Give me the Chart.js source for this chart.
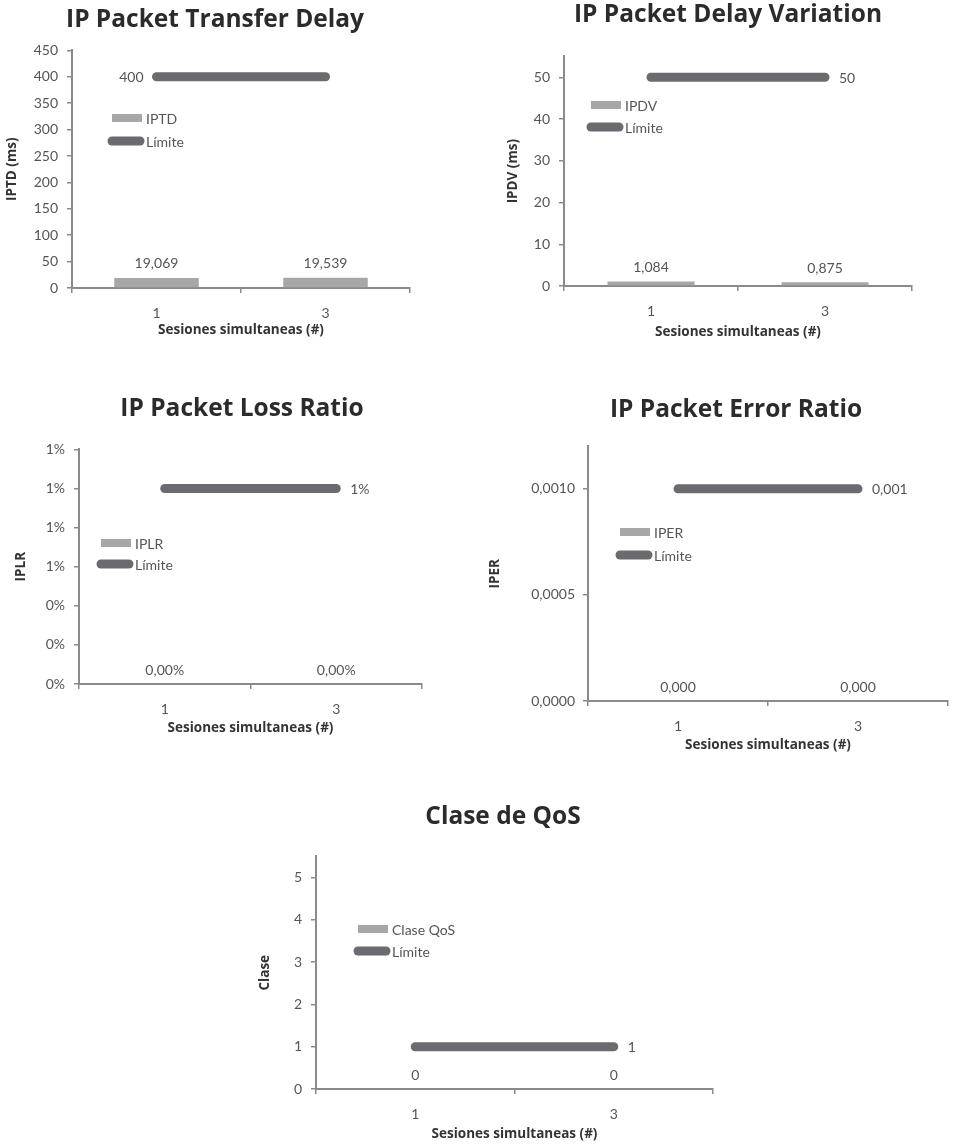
<!DOCTYPE html>
<html>
<head>
<meta charset="utf-8">
<script src="https://cdn.jsdelivr.net/npm/chart.js@4.4.1/dist/chart.umd.min.js"></script>
<style>
  html, body { margin: 0; padding: 0; background: #fff; overflow: hidden; }
  body { width: 957px; height: 1144px; position: relative; }
  .box { position: absolute; }
</style>
</head>
<body>
<div class="box" style="left:0px;top:0px;width:430px;height:340px"><canvas id="iptd"></canvas></div>
<div class="box" style="left:500px;top:0px;width:456px;height:342px"><canvas id="ipdv"></canvas></div>
<div class="box" style="left:0px;top:385px;width:484px;height:353px"><canvas id="iplr"></canvas></div>
<div class="box" style="left:487px;top:385px;width:498px;height:370px"><canvas id="iper"></canvas></div>
<div class="box" style="left:235px;top:795px;width:536px;height:349px"><canvas id="qos"></canvas></div>
<script>
// data
const categories = ['1', '3']

const iptdValues = [19.069, 19.539]
const iptdLimit = [400, 400]
const ipdvValues = [1.084, 0.875]
const ipdvLimit = [50, 50]
const iplrValues = [0, 0]
const iplrLimit = [0.01, 0.01]
const iperValues = [0, 0]
const iperLimit = [0.001, 0.001]
const qosValues = [0, 0]
const qosLimit = [1, 1]

const barColor = '#a7a7a7'
const lineColor = '#6b6b6f'
const axisColor = '#8a8a8a'
const textColor = '#555555'

Chart.defaults.font.family = 'Lato'
Chart.defaults.color = textColor

const comma = (v, d) => v.toFixed(d).replace('.', ',')

// value labels over bars and next to the limit line
const valueLabels = {
  id: 'valueLabels',
  afterDatasetsDraw(chart, args, opts) {
    const ctx = chart.ctx
    ctx.save()
    ctx.font = '14px Lato'
    ctx.fillStyle = textColor
    chart.data.datasets.forEach((ds, i) => {
      const meta = chart.getDatasetMeta(i)
      if (ds.type === 'line') {
        const idx = opts.lineSide === 'left' ? 0 : ds.data.length - 1
        const pt = meta.data[idx]
        ctx.textBaseline = 'middle'
        ctx.textAlign = opts.lineSide === 'left' ? 'right' : 'left'
        const dx = opts.lineSide === 'left' ? -13 : 14
        ctx.fillText(opts.lineFormat(ds.data[idx]), pt.x + dx, pt.y + 1)
      } else {
        meta.data.forEach((bar, j) => {
          ctx.textAlign = 'center'
          ctx.textBaseline = 'bottom'
          ctx.fillText(opts.barFormat(ds.data[j]), bar.x, Math.min(bar.y, bar.base) - 7)
        })
      }
    })
    ctx.restore()
  }
}

// legend drawn inside the plot area
const innerLegend = {
  id: 'innerLegend',
  afterDraw(chart, args, opts) {
    const { left, top, height } = chart.chartArea
    const ctx = chart.ctx
    ctx.save()
    ctx.font = '14px Lato'
    ctx.textBaseline = 'middle'
    ctx.textAlign = 'left'
    chart.data.datasets.forEach((ds, i) => {
      const y = Math.round(top + height * opts.rows[i])
      const x = left + opts.x
      if (ds.type === 'line') {
        ctx.strokeStyle = ds.borderColor
        ctx.lineWidth = 9
        ctx.lineCap = 'round'
        ctx.beginPath()
        ctx.moveTo(x, y)
        ctx.lineTo(x + 28, y)
        ctx.stroke()
      } else {
        ctx.fillStyle = ds.backgroundColor
        ctx.fillRect(x, y - 4, 30, 8)
      }
      ctx.fillStyle = textColor
      ctx.fillText(ds.label, x + 34, y + 1)
    })
    ctx.restore()
  }
}

const makeChart = (id, cfg) => {
  const ctx = document.getElementById(id)
  return new Chart(ctx, {
    type: 'bar',
    data: {
      labels: categories,
      datasets: [
        {
          label: cfg.seriesName,
          data: cfg.values,
          backgroundColor: barColor,
          barPercentage: 0.5,
          categoryPercentage: 1.0,
          order: 2
        },
        {
          type: 'line',
          label: 'Límite',
          data: cfg.limit,
          borderColor: lineColor,
          backgroundColor: lineColor,
          borderWidth: 9,
          borderCapStyle: 'round',
          pointRadius: 0,
          fill: false,
          order: 1
        }
      ]
    },
    plugins: [valueLabels, innerLegend],
    options: {
      responsive: true,
      maintainAspectRatio: false,
      animation: false,
      layout: { padding: 0 },
      plugins: {
        legend: { display: false },
        tooltip: { enabled: false },
        title: {
          display: true,
          text: cfg.title,
          color: '#2b2b2b',
          font: { family: 'Open Sans', size: 24.5, weight: 'bold' },
          padding: { top: cfg.titleTop, bottom: cfg.titleBottom }
        },
        valueLabels: {
          lineSide: cfg.lineSide,
          barFormat: cfg.barFormat,
          lineFormat: cfg.lineFormat
        },
        innerLegend: { x: cfg.legendX, rows: cfg.legendRows }
      },
      scales: {
        x: {
          offset: true,
          grid: {
            offset: true,
            drawOnChartArea: false,
            color: axisColor,
            tickLength: 5,
            lineWidth: 1.5
          },
          border: { color: axisColor, width: 2 },
          ticks: { padding: 12, font: { size: 14 }, color: textColor },
          title: {
            display: true,
            text: 'Sesiones simultaneas (#)',
            color: '#333',
            font: { family: 'Open Sans', size: 13.5, weight: 'bold' },
            padding: { top: 0, bottom: 2 }
          },
          afterFit: s => { s.height = cfg.xHeight }
        },
        y: {
          min: 0,
          max: cfg.max,
          grid: {
            drawOnChartArea: false,
            color: axisColor,
            tickLength: 5,
            lineWidth: 1.5
          },
          border: { color: axisColor, width: 2 },
          ticks: {
            stepSize: cfg.step,
            includeBounds: false,
            padding: cfg.tickPad,
            font: { size: 14 },
            color: textColor,
            callback: cfg.tickFormat
          },
          title: {
            display: true,
            text: cfg.yTitle,
            color: '#333',
            font: { family: 'Open Sans', size: 13.5, weight: 'bold' },
            padding: { top: cfg.yTitlePad, bottom: 0 }
          },
          afterFit: s => { s.width = cfg.yWidth }
        },
        // empty spacer on the right so the chart title sits where it does in the original
        spacer: {
          type: 'linear',
          axis: 'y',
          position: 'right',
          grid: { display: false },
          border: { display: false },
          ticks: { display: false },
          afterFit: s => { s.width = cfg.spacer }
        }
      }
    }
  })
}

makeChart('iptd', {
  title: 'IP Packet Transfer Delay', seriesName: 'IPTD', yTitle: 'IPTD (ms)',
  values: iptdValues, limit: iptdLimit, max: 450, step: 50,
  tickFormat: v => v.toFixed(0),
  barFormat: v => comma(v, 3), lineFormat: v => v.toFixed(0), lineSide: 'left',
  spacer: 20, titleTop: 5, titleBottom: 16, xHeight: 52, yWidth: 72, tickPad: 9, yTitlePad: 4.4,
  legendX: 40, legendRows: [0.283, 0.38]
})

makeChart('ipdv', {
  title: 'IP Packet Delay Variation', seriesName: 'IPDV', yTitle: 'IPDV (ms)',
  values: ipdvValues, limit: ipdvLimit, max: 55, step: 10,
  tickFormat: v => v.toFixed(0),
  barFormat: v => comma(v, 3), lineFormat: v => v.toFixed(0), lineSide: 'right',
  spacer: 44, titleTop: 0, titleBottom: 27, xHeight: 56, yWidth: 64, tickPad: 9, yTitlePad: 4.9,
  legendX: 27, legendRows: [0.21, 0.306]
})

makeChart('iplr', {
  title: 'IP Packet Loss Ratio', seriesName: 'IPLR', yTitle: 'IPLR',
  values: iplrValues, limit: iplrLimit, max: 0.012, step: 0.002,
  tickFormat: v => (v * 100).toFixed(0) + '%',
  barFormat: v => comma(v * 100, 2) + '%', lineFormat: v => (v * 100).toFixed(0) + '%', lineSide: 'right',
  spacer: 62, titleTop: 9, titleBottom: 26, xHeight: 54, yWidth: 79, tickPad: 9, yTitlePad: 12.9,
  legendX: 22, legendRows: [0.397, 0.487]
})

makeChart('iper', {
  title: 'IP Packet Error Ratio', seriesName: 'IPER', yTitle: 'IPER',
  values: iperValues, limit: iperLimit, max: 0.0012, step: 0.0005,
  tickFormat: v => comma(v, 4),
  barFormat: v => comma(v, 3), lineFormat: v => comma(v, 3), lineSide: 'right',
  spacer: 37, titleTop: 10, titleBottom: 22, xHeight: 54, yWidth: 101, tickPad: 8, yTitlePad: 0,
  legendX: 32, legendRows: [0.336, 0.427]
})

makeChart('qos', {
  title: 'Clase de QoS', seriesName: 'Clase QoS', yTitle: 'Clase',
  values: qosValues, limit: qosLimit, max: 5.5, step: 1,
  tickFormat: v => v.toFixed(0),
  barFormat: v => v.toFixed(0), lineFormat: v => v.toFixed(0), lineSide: 'right',
  spacer: 58, titleTop: 7, titleBottom: 25, xHeight: 55, yWidth: 81, tickPad: 9, yTitlePad: 21.9,
  legendX: 42, legendRows: [0.31, 0.405]
})
</script>
</body>
</html>
